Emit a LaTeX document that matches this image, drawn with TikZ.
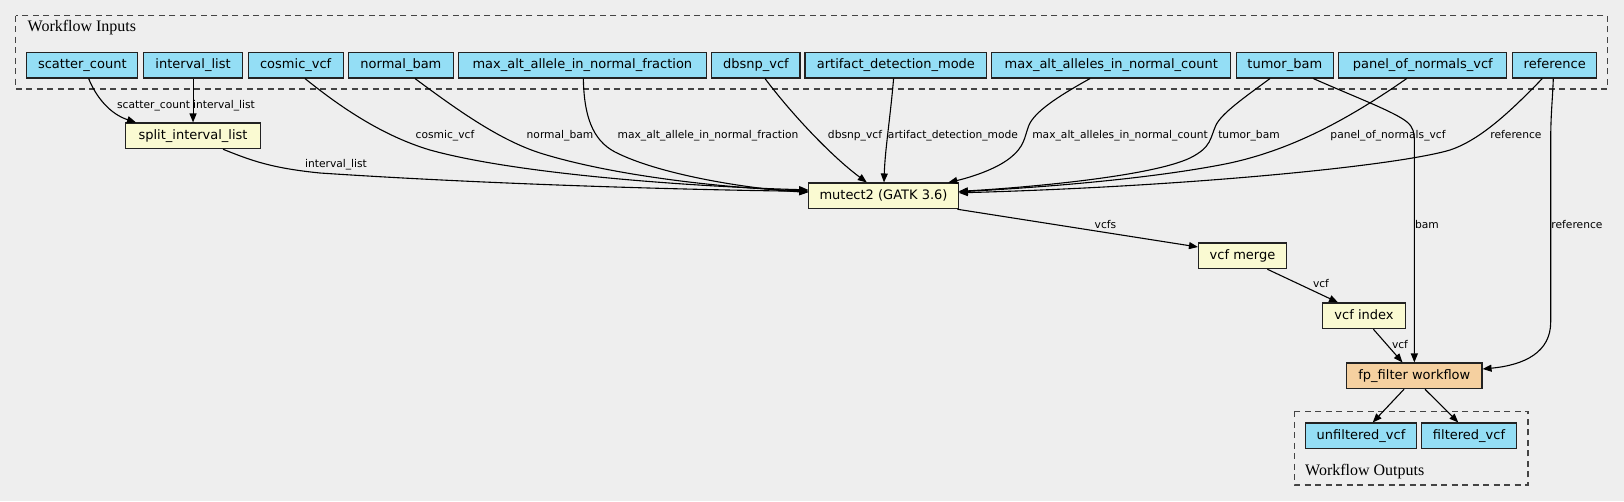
\documentclass[tikz,border=0pt]{standalone}
\usepackage{fontspec}
\setmainfont{DejaVu Sans}
\newfontfamily\clusterfont{Liberation Serif}
\usetikzlibrary{arrows.meta}
\definecolor{bg}{RGB}{238,238,238}
\definecolor{inblue}{RGB}{148,222,245}
\definecolor{procyellow}{RGB}{250,250,210}
\definecolor{suborange}{RGB}{245,208,160}
\definecolor{boxline}{RGB}{34,34,34}
\definecolor{clustline}{RGB}{68,68,68}
\tikzset{
  box/.style={draw=boxline, line width=1.1pt, minimum height=25.7pt, inner xsep=2pt, inner ysep=0pt,
    font=\fontsize{13}{15}\selectfont, text height=9.6pt, text depth=2.6pt},
  inp/.style={box, fill=inblue},
  proc/.style={box, fill=procyellow},
  subwf/.style={box, fill=suborange},
  elabel/.style={font=\fontsize{10.7}{12}\selectfont, inner sep=0pt, anchor=base},
  clabel/.style={font=\clusterfont\fontsize{16}{18}\selectfont, inner sep=0pt, anchor=base west},
  edge/.style={line width=1.1pt, -{Triangle[length=9pt,width=7pt]}},
  cluster/.style={draw=clustline, line width=1.2pt, dash pattern=on 6pt off 4.5pt}
}
\begin{document}
\begin{tikzpicture}[x=1pt,y=-1pt]
\fill[bg] (0,0) rectangle (1624,501);
\useasboundingbox (0,0) rectangle (1624,501);

% clusters
\draw[cluster] (15.7,15.7) rectangle (1607.7,89);
\node[clabel] (inlabel) at (27.5,31.7) {Workflow Inputs};
\draw[cluster] (1294.3,411.3) rectangle (1528,485);
\node[clabel] (outlabel) at (1305,475.7) {Workflow Outputs};

% input nodes
\node[inp, minimum width=111] (scatter) at (82.35,65.15) {scatter\_count};
\node[inp, minimum width=98.9] (interval) at (193.05,65.15) {interval\_list};
\node[inp, minimum width=95] (cosmic) at (295.7,65.15) {cosmic\_vcf};
\node[inp, minimum width=104.6] (normal) at (400.9,65.15) {normal\_bam};
\node[inp, minimum width=247.5] (maxfrac) at (582.35,65.15) {max\_alt\_allele\_in\_normal\_fraction};
\node[inp, minimum width=88.2] (dbsnp) at (755.9,65.15) {dbsnp\_vcf};
\node[inp, minimum width=181.8] (artifact) at (895.9,65.15) {artifact\_detection\_mode};
\node[inp, minimum width=238.9] (maxcount) at (1111.25,65.15) {max\_alt\_alleles\_in\_normal\_count};
\node[inp, minimum width=96.8] (tumor) at (1284.8,65.15) {tumor\_bam};
\node[inp, minimum width=167.8] (panel) at (1422.8,65.15) {panel\_of\_normals\_vcf};
\node[inp, minimum width=84] (reference) at (1554.7,65.15) {reference};

% process nodes
\node[proc, minimum width=135.3] (split) at (193.05,135.85) {split\_interval\_list};
\node[proc, minimum width=149.6] (mutect) at (883.5,195.85) {mutect2 (GATK 3.6)};
\node[proc, minimum width=88] (merge) at (1242.5,255.85) {vcf merge};
\node[proc, minimum width=83] (index) at (1364,315.85) {vcf index};
\node[subwf, minimum width=135.3] (fp) at (1414.35,375.85) {fp\_filter workflow};

% output nodes
\node[inp, minimum width=111.4] (unf) at (1361,435.85) {unfiltered\_vcf};
\node[inp, minimum width=95.4] (filt) at (1469,435.85) {filtered\_vcf};

% edges into split
\draw[edge] ([xshift=6.3pt]scatter.south) .. controls (96,97) and (110,114) .. ([xshift=-57pt]split.north);
\draw[edge] (interval.south) -- (split.north);

% edges into mutect (left)
\draw[edge] ([xshift=30pt]split.south) .. controls (250,160) and (270,168) .. (320,173) .. controls (500,185) and (700,190) .. ([yshift=4.5pt]mutect.west);
\draw[edge] ([xshift=9.3pt]cosmic.south) .. controls (350,115) and (390,138) .. (430,150) .. controls (520,175) and (700,187) .. ([yshift=6pt]mutect.west);
\draw[edge] ([xshift=14.1pt]normal.south) .. controls (460,112) and (500,140) .. (540,153) .. controls (620,178) and (740,189) .. ([yshift=5pt]mutect.west);
\draw[edge] ([xshift=1pt]maxfrac.south) .. controls (584,115) and (592,140) .. (615,152) .. controls (660,175) and (750,189) .. ([yshift=3.5pt]mutect.west);

% edges into mutect (top)
\draw[edge] ([xshift=9.1pt]dbsnp.south) .. controls (790,112) and (830,155) .. ([xshift=-16.7pt]mutect.north);
\draw[edge] ([xshift=-2.3pt]artifact.south) .. controls (890,120) and (885,150) .. ([xshift=0.5pt]mutect.north);
\draw[edge] ([xshift=-21.2pt]maxcount.south) .. controls (1055,98) and (1035,112) .. (1029,125) .. controls (1024,138) and (1025,146) .. (1010,158) .. controls (995,170) and (968,178) .. ([xshift=64.8pt]mutect.north);

% edges into mutect (right)
\draw[edge] ([xshift=-14.8pt]tumor.south) .. controls (1245,97) and (1222,113) .. (1216,125) .. controls (1210,138) and (1212,147) .. (1190,158) .. controls (1150,177) and (1020,188) .. ([yshift=4.5pt]mutect.east);
\draw[edge] ([xshift=-16.1pt]panel.south) .. controls (1350,118) and (1290,152) .. (1220,165) .. controls (1130,182) and (1010,189) .. ([yshift=4pt]mutect.east);
\draw[edge] ([xshift=-12.4pt]reference.south) .. controls (1510,112) and (1480,140) .. (1450,150) .. controls (1400,165) and (1200,186) .. ([yshift=3pt]mutect.east);

% downstream
\draw[edge] ([xshift=-1.5pt]mutect.south east) -- ([yshift=8.85pt]merge.west);
\draw[edge] ([xshift=24.9pt]merge.south) -- ([xshift=-26pt]index.north);
\draw[edge] ([xshift=9.4pt]index.south) -- ([xshift=-11.85pt]fp.north);
\draw[edge] ([xshift=28.5pt]tumor.south) .. controls (1355,97) and (1395,112) .. (1407,122) .. controls (1413,127) and (1414.35,132) .. (1414.35,142) -- (fp.north);
\draw[edge] ([xshift=-1.4pt]reference.south) .. controls (1552.5,100) and (1550.7,115) .. (1550.7,140) -- (1550.7,322) .. controls (1550.7,352) and (1525,365) .. ([yshift=6.85pt]fp.east);
\draw[edge] ([xshift=-10.35pt]fp.south) -- ([xshift=11.7pt]unf.north);
\draw[edge] ([xshift=10.65pt]fp.south) -- ([xshift=-10.7pt]filt.north);

% edge labels
\node[elabel] (l1) at (153.6,108.5) {scatter\_count};
\node[elabel] (l2) at (224,108.5) {interval\_list};
\node[elabel] (l3) at (336,167.8) {interval\_list};
\node[elabel] (l4) at (445,138.5) {cosmic\_vcf};
\node[elabel] (l5) at (560,138.5) {normal\_bam};
\node[elabel] (l6) at (708,138.5) {max\_alt\_allele\_in\_normal\_fraction};
\node[elabel] (l7) at (855,138.5) {dbsnp\_vcf};
\node[elabel] (l8) at (953,138.5) {artifact\_detection\_mode};
\node[elabel] (l9) at (1120,138.5) {max\_alt\_alleles\_in\_normal\_count};
\node[elabel] (l10) at (1249,138.5) {tumor\_bam};
\node[elabel] (l11) at (1388,138.5) {panel\_of\_normals\_vcf};
\node[elabel] (l12) at (1516,138.5) {reference};
\node[elabel] (l13) at (1105.5,228.2) {vcfs};
\node[elabel] (l14) at (1427,228) {bam};
\node[elabel] (l15) at (1577,228) {reference};
\node[elabel] (l16) at (1321,287.5) {vcf};
\node[elabel] (l17) at (1400,348) {vcf};
\end{tikzpicture}
\end{document}
